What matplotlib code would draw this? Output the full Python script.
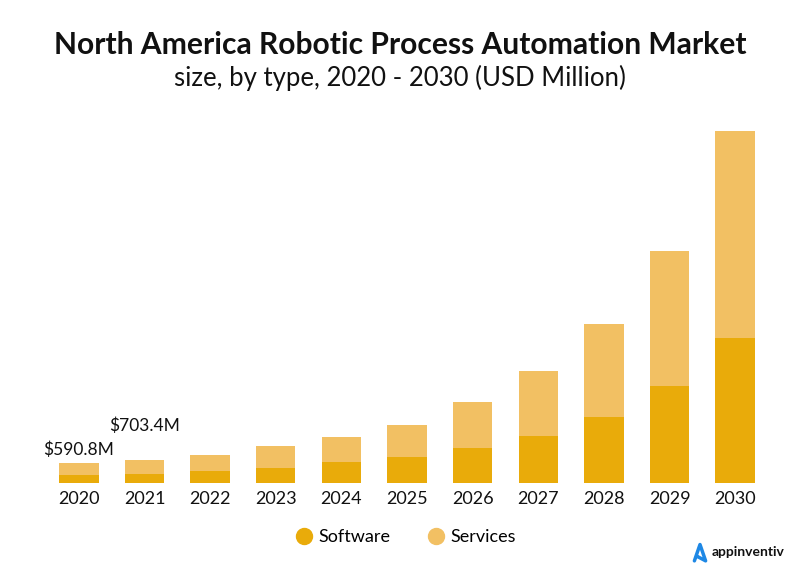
import matplotlib
matplotlib.use('Agg')
import matplotlib.pyplot as plt
from matplotlib.lines import Line2D

plt.rcParams['font.family'] = ['Lato', 'DejaVu Sans']

years = ['2020', '2021', '2022', '2023', '2024', '2025', '2026', '2027', '2028', '2029', '2030']
software = [232, 280, 370, 452, 623, 783, 1063, 1424, 1996, 2929, 4374]
services = [359, 423, 482, 662, 762, 963, 1366, 1956, 2781, 4063, 6221]
labels = {0: '$590.8M', 1: '$703.4M'}
# label offsets in points (dx, dy) above the bar top
label_offsets = {0: (0, 9.6), 1: (0, 24.3)}

c_soft = '#E9AB0A'
c_serv = '#F2C063'

fig = plt.figure(figsize=(8, 5.83), dpi=100)
ax = fig.add_axes([0.0575, 0.1715, 0.9025, 0.6226])

x = list(range(len(years)))
ax.bar(x, software, width=0.6, color=c_soft, label='Software')
ax.bar(x, services, width=0.6, bottom=software, color=c_serv, label='Services')

for i, txt in labels.items():
    total = software[i] + services[i]
    ax.annotate(txt.replace('$', r'\$'), (i, total), xytext=label_offsets[i], textcoords='offset points',
                ha='center', va='center', fontsize=12.5, color='#111111')

ax.set_xlim(-0.5, len(years) - 0.5)
ax.set_ylim(0, 10926)
ax.set_xticks(x)
ax.set_xticklabels(years, fontsize=13, color='#111111')
ax.tick_params(axis='x', length=0, pad=6)
ax.set_yticks([])
for s in ax.spines.values():
    s.set_visible(False)

fig.text(0.5, 0.922, 'North America Robotic Process Automation Market',
         ha='center', va='center', fontsize=21.6, fontweight='bold', color='#111111')
fig.text(0.5, 0.867, 'size, by type, 2020 - 2030 (USD Million)',
         ha='center', va='center', fontsize=18.5, color='#111111')

handles = [Line2D([], [], marker='o', linestyle='', markersize=11.5, color=c_soft),
           Line2D([], [], marker='o', linestyle='', markersize=11.5, color=c_serv)]
fig.legend(handles, ['Software', 'Services'], loc='center', bbox_to_anchor=(0.506, 0.079),
           ncol=2, frameon=False, fontsize=13, handletextpad=0.2, handlelength=1.2,
           columnspacing=1.9)

# logo
fig.add_artist(Line2D([0.868, 0.875, 0.882, 0.871], [0.038, 0.066, 0.038, 0.046],
                      transform=fig.transFigure, color='#1E88E5', linewidth=2.5,
                      solid_capstyle='round'))
fig.text(0.889, 0.054, 'appinventiv', ha='left', va='center', fontsize=10,
         fontweight='bold', color='#111111')

fig.savefig('out.png', dpi=100, facecolor='white')
